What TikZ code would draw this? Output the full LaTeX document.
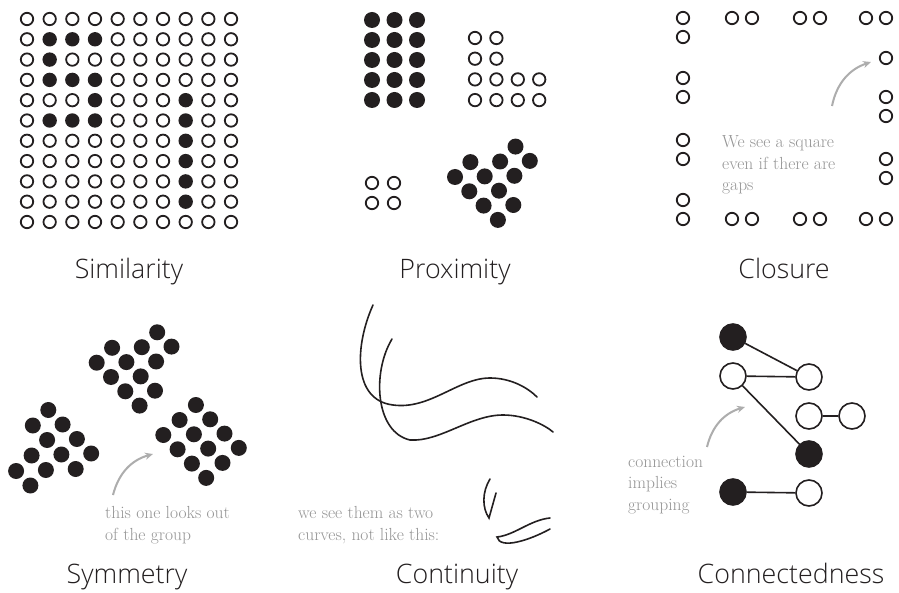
\documentclass[tikz,border=0pt]{standalone}
\usepackage{fontspec}
\setsansfont{Open Sans}[UprightFont=* Light]
\usetikzlibrary{arrows.meta, positioning}
\definecolor{ink}{HTML}{231F20}
\definecolor{notegray}{HTML}{959595}
\definecolor{hintgray}{HTML}{ADADAD}

\begin{document}
\begin{tikzpicture}[x=1pt, y=-1pt,
  ring/.style={circle, draw=ink, line width=1.8pt, inner sep=0pt, minimum size=12.4pt},
  dot/.style={circle, fill=ink, inner sep=0pt, minimum size=14.4pt},
  bigdot/.style={dot, minimum size=16pt},
  knot/.style={circle, draw=ink, line width=1.6pt, inner sep=0pt, minimum size=26pt},
  link/.style={draw=ink, line width=1.6pt},
  title/.style={font=\sffamily\fontsize{26.8}{32}\selectfont, text=ink, anchor=base},
  note/.style={font=\fontsize{17.5}{21.5}\selectfont, text=notegray, align=left,
    anchor=base west, inner sep=0pt},
  hint/.style={-{Stealth[length=8pt, width=7pt]}, line width=2pt, draw=hintgray},
  curve/.style={draw=ink, line width=1.6pt, line cap=round},
]
\fill[white] (0,0) rectangle (899,593);
\useasboundingbox (0,0) rectangle (899,593);

% Similarity
\foreach \r in {0,...,10}
  \foreach \c in {0,...,9} {
    \pgfmathtruncatemacro\full{(\c==7)*(\r>3)*(\r<10)
      + (\c>0)*(\c<4)*((\r==1)+(\r==3)+(\r==5)) + (\c==1)*(\r==2) + (\c==3)*(\r==4)}
    \ifnum\full>0
      \node[dot] (sim-\r-\c) at ({27+22.67*\c},{19+20.3*\r}) {};
    \else
      \node[ring] (sim-\r-\c) at ({27+22.67*\c},{19+20.3*\r}) {};
    \fi
  }
\node[title] (simtitle) at (129,279) {Similarity};

% Proximity
\foreach \r in {0,...,4}
  \foreach \c in {0,1,2}
    \node[bigdot] (pxa-\r-\c) at ({372+22.5*\c},{20+20*\r}) {};
\foreach \r/\n in {0/1, 1/1, 2/3, 3/3}
  \foreach \c in {0,...,\n}
    \node[ring] (pxb-\r-\c) at ({475+21.4*\c},{38+20.7*\r}) {};
\foreach \r in {0,1}
  \foreach \c in {0,1}
    \node[ring] (pxc-\r-\c) at ({372+22*\c},{183+20*\r}) {};
\foreach \b/\from/\to in {0/0/3, 1/0/3, 2/1/2, 3/1/2}
  \foreach \a in {\from,...,\to}
    \node[bigdot] (pxd-\a-\b) at ({455+14.3*\a+15.4*\b},{177+14.3*\a-14.9*\b}) {};
\node[title] (pxtitle) at (455,279) {Proximity};

% Closure
\foreach \x/\y [count=\i] in {683/18, 732/18, 752/18, 800/18, 820/18, 866/18, 886/18,
    683/37, 683/78, 683/97, 683/140, 683/159, 683/200,
    683/219, 732/219, 752/219, 800/219, 820/219, 866/219, 886/219,
    886/58, 886/97, 886/116, 886/159, 886/178}
  \node[ring] (cl-\i) at (\x,\y) {};
\node[note] (clnote) at (722,191) {We see a square\\even if there are\\gaps};
\coordinate (clfrom) at (832,106);
\coordinate (clto) at (871,62);
\draw[hint] (clfrom) to[bend left=30] (clto);
\node[title] (cltitle) at (784,279) {Closure};

% Symmetry
\foreach \b/\from/\to in {0/0/3, 1/0/3, 2/1/2, 3/1/2}
  \foreach \a in {\from,...,\to} {
    \node[bigdot] (sya-\a-\b) at ({96.7+14.3*\a+15.4*\b},{362.7+14.3*\a-14.9*\b}) {};
    \node[bigdot] (syb-\a-\b) at ({48.3+14.3*\a-15.5*\b},{410+14.5*\a+15.5*\b}) {};
  }
\foreach \b in {0,1,2}
  \foreach \a in {0,...,3}
    \node[bigdot] (syc-\a-\b) at ({163.3+14.3*\a+16.3*\b},{435+14.3*\a-15*\b}) {};
\node[note] (synote) at (105,540) {this one looks out\\of the group};
\coordinate (syfrom) at (113,495);
\coordinate (syto) at (153,454);
\draw[hint] (syfrom) to[bend left=30] (syto);
\node[title] (sytitle) at (127,583) {Symmetry};

% Continuity
\draw[curve] (373,305) .. controls (355,345) and (352,400) .. (393,405)
  .. controls (430,410) and (458,378) .. (490,378)
  .. controls (510,378) and (527,387) .. (537,397);
\draw[curve] (392,339) .. controls (372,372) and (375,432) .. (410,440)
  .. controls (440,442) and (470,415) .. (503,415)
  .. controls (525,415) and (545,425) .. (553,432);
\draw[curve] (490,479) .. controls (482,492) and (482,508) .. (489,518) -- (496,493);
\draw[curve] (550,518) .. controls (530,520) and (515,535) .. (497,537)
  .. controls (500,550) and (530,540) .. (550,529);
\node[note] (conote) at (298,540) {we see them as two\\curves, not like this:};
\node[title] (cotitle) at (457,583) {Continuity};

% Connectedness
\node[knot, fill=ink] (cn-1) at (733,337) {};
\node[knot] (cn-2) at (733,376) {};
\node[knot] (cn-3) at (809,377) {};
\node[knot] (cn-4) at (809,416) {};
\node[knot] (cn-5) at (852,416) {};
\node[knot, fill=ink] (cn-6) at (809,454) {};
\node[knot, fill=ink] (cn-7) at (733,492) {};
\node[knot] (cn-8) at (809,493) {};
\draw[link] (cn-1) -- (cn-3);
\draw[link] (cn-2) -- (cn-3);
\draw[link] (cn-2) -- (cn-6);
\draw[link] (cn-4) -- (cn-5);
\draw[link] (cn-7) -- (cn-8);
\node[note] (cnnote) at (628,510) {connection\\implies\\grouping};
\coordinate (cnfrom) at (707,447);
\coordinate (cnto) at (745,407);
\draw[hint] (cnfrom) to[bend left=30] (cnto);
\node[title] (cntitle) at (791,583) {Connectedness};

\end{tikzpicture}
\end{document}
